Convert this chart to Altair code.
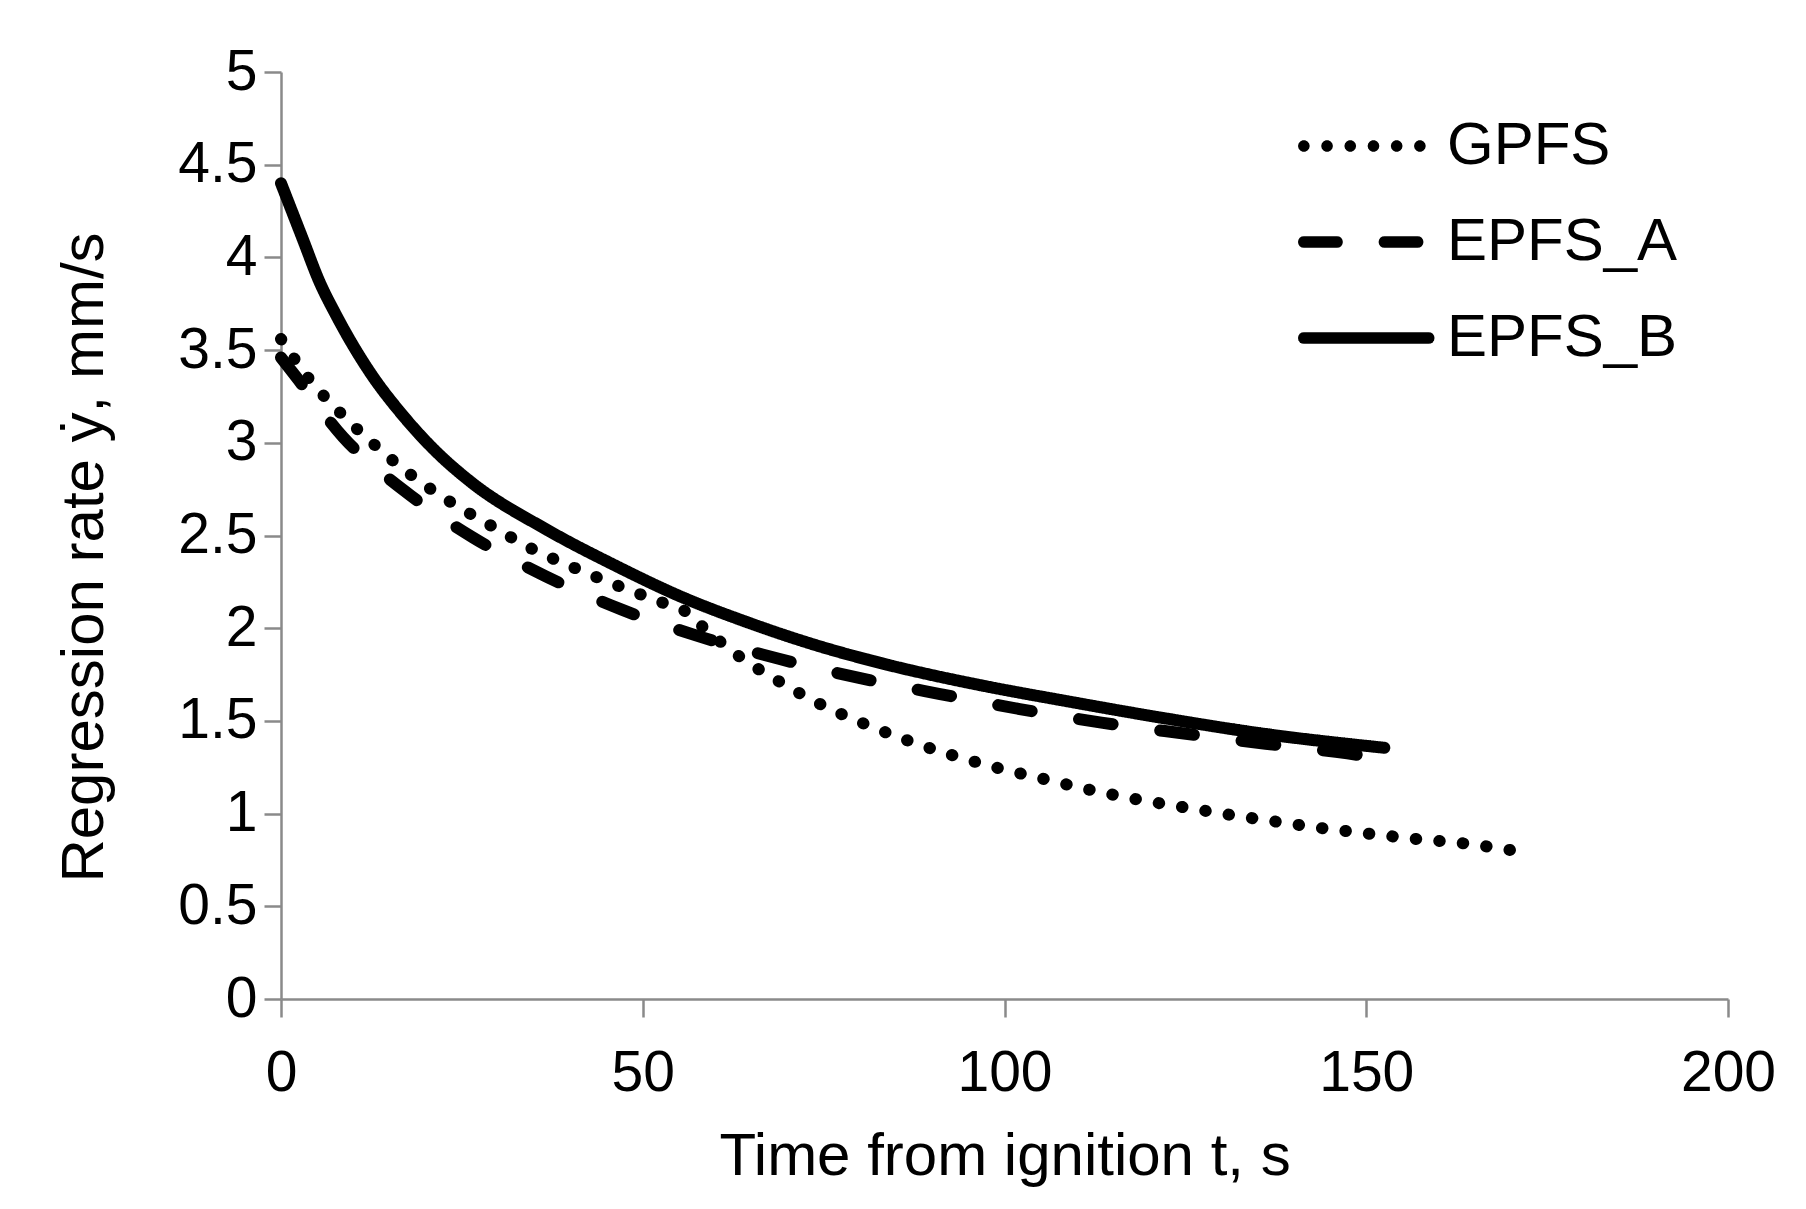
import math
import altair as alt
import pandas as pd

# ---- data ----
series_names = ["GPFS", "EPFS_A", "EPFS_B"]

gpfs_t = [0, 3.9, 8.3, 13.1, 18.2, 23.5, 29.2, 34.7, 40.7, 46.7, 52.8, 55.8, 58.2, 63.3,
          68.8, 74.5, 80.5, 86.5, 92.7, 99, 105.3, 111.6, 118, 124.5, 130.9, 137.3,
          143.8, 150.3, 156.7, 163.1, 170.5]
gpfs_v = [3.56, 3.344, 3.158, 2.983, 2.82, 2.679, 2.549, 2.428, 2.323, 2.227, 2.137, 2.093, 2.01, 1.849,
          1.714, 1.591, 1.486, 1.396, 1.316, 1.247, 1.188, 1.13, 1.079, 1.036, 0.995, 0.958,
          0.922, 0.892, 0.864, 0.841, 0.80]

epfsa_t = [0, 2, 8.6, 17.1, 26.5, 36.6, 47.1, 58.1, 68.8, 79.9, 91.1, 102.1, 113.4,
           124.8, 136.1, 147.4, 150]
epfsa_v = [3.46, 3.36, 3.03, 2.74, 2.49, 2.28, 2.10, 1.952, 1.835, 1.732, 1.645, 1.564, 1.491,
           1.432, 1.377, 1.325, 1.31]

epfsb_t = [0, 3, 5.3, 7.6, 12.3, 16.9, 21.5, 26.2, 36.8, 46.1, 55.3, 64.6, 73.8, 83.1,
           97, 108.1, 122, 135.9, 152.5]
epfsb_v = [4.40, 4.10, 3.87, 3.69, 3.38, 3.145, 2.95, 2.79, 2.53, 2.34, 2.17, 2.03, 1.91, 1.81,
           1.69, 1.61, 1.515, 1.43, 1.355]

y_ticks = [0, 0.5, 1, 1.5, 2, 2.5, 3, 3.5, 4, 4.5, 5]
x_ticks = [0, 50, 100, 150, 200]

rows = []
for name, ts, vs in [("GPFS", gpfs_t, gpfs_v), ("EPFS_A", epfsa_t, epfsa_v), ("EPFS_B", epfsb_t, epfsb_v)]:
    for t, v in zip(ts, vs):
        rows.append({"series": name, "t": t, "v": v})
df = pd.DataFrame(rows)

# ---- line styles ----
dash_styles = {"GPFS": [0.5, 23.1], "EPFS_A": [34, 48], "EPFS_B": [1, 0]}

# ---- legend symbol shapes (unit box [-1, 1]) ----
R = 0.09


def _fmt(x, y):
    return f"{x:.4f},{y:.4f}"


def circle_path(cx, r, n=14):
    pts = [(cx + r * math.cos(2 * math.pi * k / n), r * math.sin(2 * math.pi * k / n)) for k in range(n)]
    return "M" + " L".join(_fmt(x, y) for x, y in pts) + " Z"


def capsule_path(x0, x1, r, n=8):
    pts = []
    c1, c2 = x1 - r, x0 + r
    for k in range(n + 1):
        a = -math.pi / 2 + math.pi * k / n
        pts.append((c1 + r * math.cos(a), r * math.sin(a)))
    for k in range(n + 1):
        a = math.pi / 2 + math.pi * k / n
        pts.append((c2 + r * math.cos(a), r * math.sin(a)))
    return "M" + " L".join(_fmt(x, y) for x, y in pts) + " Z"


dot_shape = " ".join(circle_path(-1 + R + k * 0.357, R) for k in range(6))
dash_shape = capsule_path(-1, -0.31, R) + " " + capsule_path(0.24, 0.93, R)
solid_shape = capsule_path(-1, 1.1, R)

FONT = "Liberation Sans"
AXIS_GREY = "#8a8a8a"

x_enc = alt.X("t:Q", scale=alt.Scale(domain=[0, 200], nice=False),
              axis=alt.Axis(values=x_ticks, title="Time from ignition t, s",
                            labelFontSize=57, titleFontSize=60, labelPadding=28,
                            titlePadding=26, tickSize=18, labelFlush=False))
y_enc = alt.Y("v:Q", scale=alt.Scale(domain=[0, 5], nice=False),
              axis=alt.Axis(values=y_ticks, format="~g", title="Regression rate ẏ, mm/s",
                            labelFontSize=57, titleFontSize=60, labelPadding=7,
                            titlePadding=62, tickSize=17, titleY=485, labelFlush=False))

line_layers = []
for name in series_names:
    line_layers.append(
        alt.Chart(df).transform_filter(alt.datum.series == name).mark_line(
            color="black", strokeWidth=12, interpolate="monotone", strokeCap="round",
            strokeDash=dash_styles[name],
        ).encode(x=x_enc, y=y_enc)
    )

legend_pts = alt.Chart(df).mark_point(
    filled=True, color="black"
).encode(
    x="t:Q",
    y="v:Q",
    opacity=alt.value(0),
    shape=alt.Shape(
        "series:N",
        scale=alt.Scale(domain=series_names, range=[dot_shape, dash_shape, solid_shape]),
        legend=alt.Legend(title=None, orient="none", legendX=1016, legendY=8,
                          symbolSize=16900, symbolOpacity=1,
                          symbolFillColor="black", labelFontSize=60, labelFont=FONT,
                          labelColor="black", labelOffset=18, rowPadding=-31,
                          padding=0, labelLimit=0),
    ),
)

chart = alt.layer(*line_layers, legend_pts).properties(
    width=1447, height=927,
    autosize=alt.AutoSizeParams(type="none"),
    padding={"left": 273, "top": 64, "right": 70, "bottom": 200},
).configure_view(
    stroke=None
).configure_axis(
    grid=False,
    domainColor=AXIS_GREY, domainWidth=2.5,
    tickColor=AXIS_GREY, tickWidth=2.5,
    labelFont=FONT, titleFont=FONT,
    labelColor="black", titleColor="black",
    titleFontWeight="normal",
)

chart.save("out.html", embed_options={"renderer": "svg", "actions": False})
